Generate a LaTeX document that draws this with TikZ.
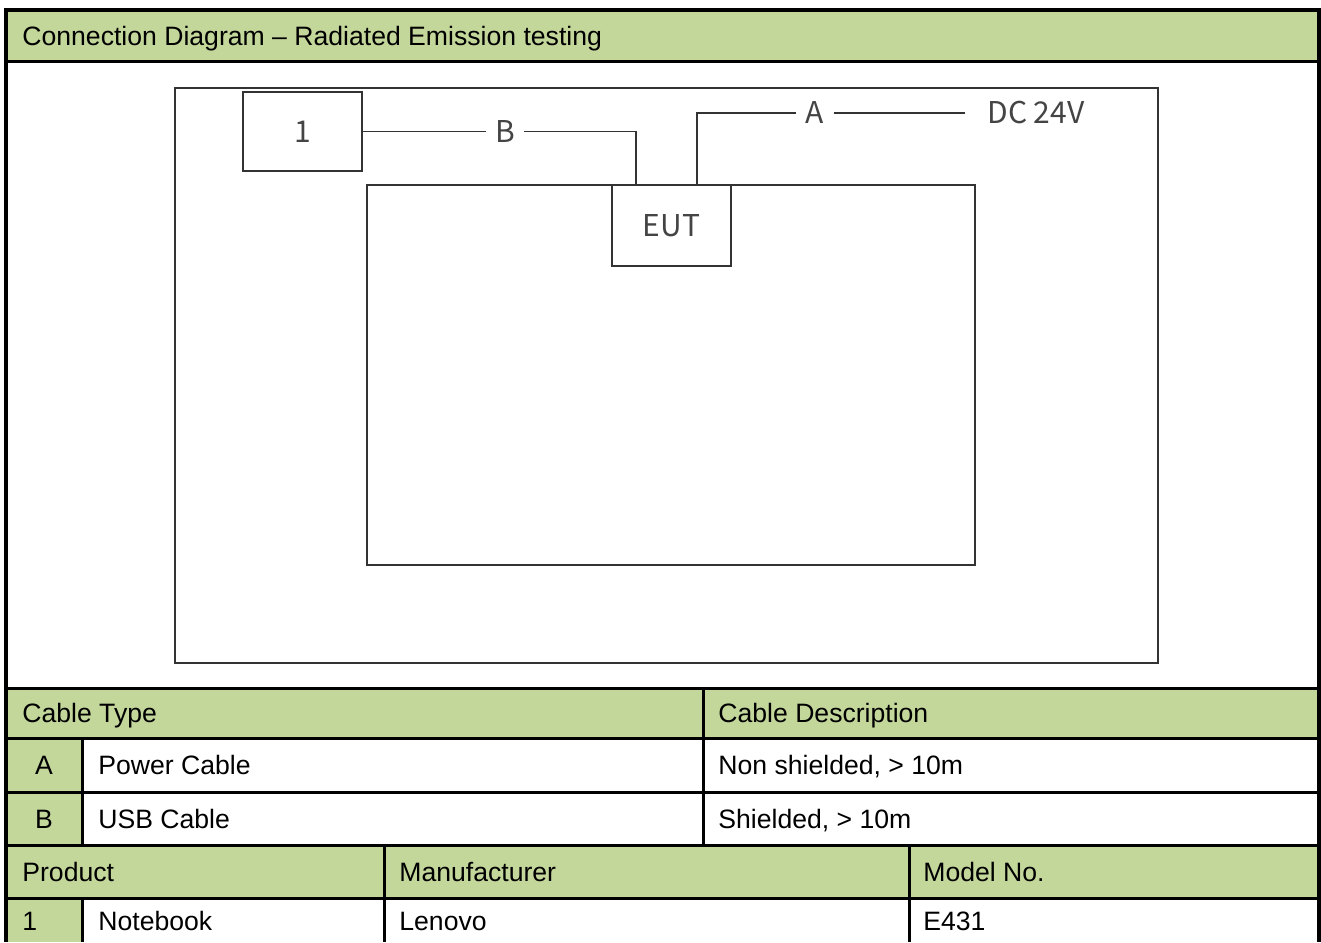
\documentclass[tikz,border=0pt]{standalone}
\usepackage{fontspec}
\setmainfont{Liberation Sans}
\newfontfamily\diagfont{Noto Sans CJK SC}
\usepackage{tikz}
\usetikzlibrary{positioning,calc}
\definecolor{reHead}{HTML}{C4D79B}
\definecolor{reLine}{HTML}{333333}
\definecolor{reText}{HTML}{444444}
\tikzset{
    % table styles
    headfill/.style={fill=reHead},
    gridline/.style={draw=black, line width=1.5pt},
    outerline/.style={draw=black, line width=1.7pt},
    celltext/.style={anchor=base west, inner sep=0pt, font=\fontsize{13.3}{16}\selectfont},
    cellmid/.style={anchor=base, inner sep=0pt, font=\fontsize{13.3}{16}\selectfont},
    % diagram styles
    frame/.style={draw=reLine, line width=0.85pt},
    devbox/.style={rectangle, draw=reLine, fill=white, line width=0.85pt, inner sep=0pt, text=reText, font=\diagfont\fontsize{15}{18}\selectfont},
    cablelabel/.style={inner sep=4.5pt, text=reText, font=\diagfont\fontsize{15}{18}\selectfont},
    wire/.style={draw=reLine, line width=0.85pt}
}
\begin{document}
\begin{tikzpicture}[x=0.5pt, y=-0.5pt]
    \useasboundingbox (0,0) rectangle (1321,942);

    % Green header cells
    \fill[headfill] (6,10) rectangle (1319,61);
    \fill[headfill] (6,688) rectangle (1319,738);
    \fill[headfill] (6,738) rectangle (82,845);
    \fill[headfill] (6,845) rectangle (1319,898);
    \fill[headfill] (6,898) rectangle (82,942);

    % Table grid
    \foreach \yy in {61,688,738,792,845,898}
        \draw[gridline] (6,\yy) -- (1319,\yy);
    \draw[gridline] (82,738) -- (82,845);
    \draw[gridline] (703,688) -- (703,845);
    \draw[gridline] (82,898) -- (82,942);
    \draw[gridline] (384,845) -- (384,942);
    \draw[gridline] (909,845) -- (909,942);
    \draw[outerline] (6,942) -- (6,10) -- (1319,10) -- (1319,942);

    % Table texts
    \node[celltext] (title) at (22,45) {Connection Diagram -- Radiated Emission testing};
    \node[celltext] (hcable) at (22,722.5) {Cable Type};
    \node[celltext] (hdesc) at (718,722.5) {Cable Description};
    \node[cellmid] (ida) at (44,774.5) {A};
    \node[celltext] (cabla) at (98,774.5) {Power Cable};
    \node[celltext] (desca) at (718,774.5) {Non shielded, > 10m};
    \node[cellmid] (idb) at (44,828) {B};
    \node[celltext] (cablb) at (98,828) {USB Cable};
    \node[celltext] (descb) at (718,828) {Shielded, > 10m};
    \node[celltext] (hprod) at (22,881) {Product};
    \node[celltext] (hmanu) at (399,881) {Manufacturer};
    \node[celltext] (hmodel) at (923,881) {Model No.};
    \node[celltext] (id1) at (22,930.5) {1};
    \node[celltext] (prod1) at (98,930.5) {Notebook};
    \node[celltext] (manu1) at (399,930.5) {Lenovo};
    \node[celltext] (model1) at (923,930.5) {E431};

    % Test area and table
    \draw[frame] (175,88) rectangle (1158,663);
    \draw[frame] (367,185) rectangle (975,565);

    % Devices
    \node[devbox, minimum width=59.5pt, minimum height=39.5pt] (nb) at (302.5,131.5) {1};
    \node[devbox, minimum width=59.5pt, minimum height=40.5pt] (eut) at (671.5,225.5) {EUT};

    % Cable labels
    \node[cablelabel] (labB) at (505,131.5) {B};
    \node[cablelabel] (labA) at (815,113) {A};
    \node[cablelabel, anchor=west, inner xsep=11pt] (labDC) at (965,113) {DC 24V};
    \coordinate (dropB) at (636,185);
    \coordinate (dropA) at (697,185);

    % Connections
    \draw[wire] (nb.east) -- (labB.west);
    \draw[wire] (labB.east) -| (dropB);
    \draw[wire] (dropA) |- (labA.west);
    \draw[wire] (labA.east) -- (labDC.west);

\end{tikzpicture}
\end{document}
